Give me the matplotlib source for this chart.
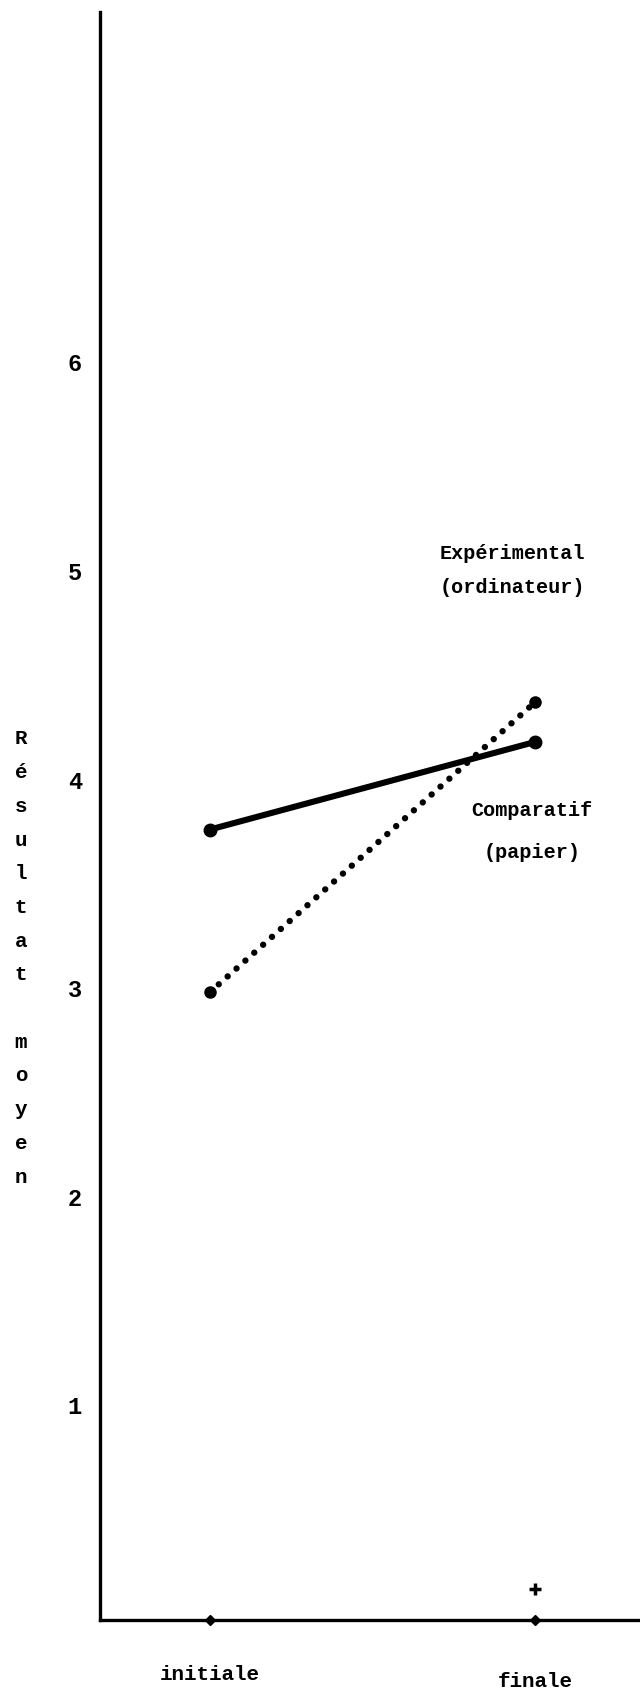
import numpy as np
import matplotlib
matplotlib.use("Agg")
import matplotlib.pyplot as plt

# moments of measure and mean scores
moments = ["initiale", "finale"]
experimental = [2.98, 4.37]   # Expérimental (ordinateur), dotted
comparatif = [3.76, 4.18]     # Comparatif (papier), solid
yticks = [1, 2, 3, 4, 5, 6]
ylabels = ["1", "2", "3", "4", "5", "6"]

plt.rcParams['font.family'] = ['Liberation Mono', 'DejaVu Sans Mono']
plt.rcParams['font.weight'] = 'bold'

W, H = 640, 1694
fig = plt.figure(figsize=(W/100, H/100), dpi=100)
ax = fig.add_axes([100/W, (H-1620)/H, 1-100/W, (1620-12)/H])

xs = np.arange(len(moments))

ax.plot(xs, comparatif, '-', color='black', lw=4.4, solid_capstyle='round',
        marker='o', ms=9)
ax.plot(xs, experimental, color='black', lw=4.6, dashes=(0.01, 1.85),
        dash_capstyle='round', marker='o', ms=8)

# diamond tick marks on the x axis and the small cross above "finale"
xt = ax.get_xaxis_transform()
ax.plot(xs, [0, 0], 'D', color='black', ms=5.5, transform=xt, clip_on=False)
ax.plot([1], [0.12], '+', color='black', ms=9, mew=2.5, clip_on=False)

ax.set_xlim(-0.338, 1.323)
ax.set_ylim(-0.03, 7.68)

for s in ['top', 'right']:
    ax.spines[s].set_visible(False)
for s in ['left', 'bottom']:
    ax.spines[s].set_linewidth(2.4)

ax.set_yticks(yticks)
ax.set_yticklabels(ylabels, fontsize=17, fontweight='bold')
ax.tick_params(axis='y', length=0, pad=13)
ax.set_xticks(xs)
ax.set_xticklabels(moments, fontsize=15, fontweight='bold')
ax.tick_params(axis='x', length=0, pad=36)
lbls = ax.get_xticklabels()
lbls[0].set_y(0.0034)
lbls[1].set_y(-0.0013)

ax.text(0.93, 5.0, "Expérimental\n(ordinateur)", ha='center', va='center',
        fontsize=14.5, linespacing=2.0)
ax.text(0.99, 3.75, "Comparatif\n(papier)", ha='center', va='center',
        fontsize=14.5, linespacing=2.5)

fig.text(21/W, 1-958/H, "R\né\ns\nu\nl\nt\na\nt\n\nm\no\ny\ne\nn",
         ha='center', va='center', fontsize=15, linespacing=1.98)

fig.savefig("out.png", dpi=100, facecolor='white')
